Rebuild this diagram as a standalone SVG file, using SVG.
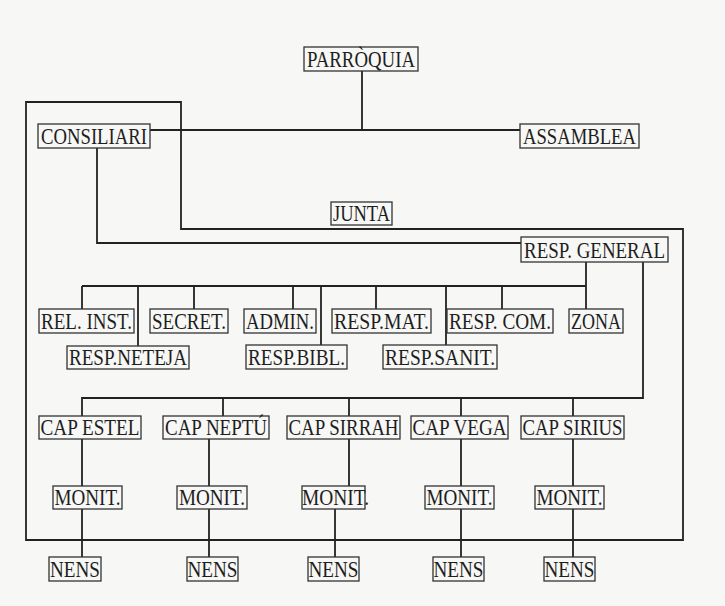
<svg xmlns="http://www.w3.org/2000/svg" width="725" height="606" viewBox="0 0 725 606">
<style>
.bg{fill:#f7f7f5}
.box{fill:none;stroke:#333;stroke-width:1.3}
.ln{fill:none;stroke:#222;stroke-width:1.8;stroke-linejoin:miter}
text{font-family:"Liberation Serif","Times New Roman",serif;font-size:23px;fill:#1e1e1e;text-anchor:middle}
</style>
<rect class="bg" x="0" y="0" width="725" height="606"/>
<g id="connectors">
<path class="ln" d="M362,71 V130 M150,130 H520"/>
<path class="ln" d="M26,102 H181 V229 H683 V540 H26 Z"/>
<path class="ln" d="M97,148 V243 H521"/>
<path class="ln" d="M586,262 V309 M82,286 H586 M82,286 V309 M138,286 V346 M194,286 V309 M293,286 V309 M321,286 V345 M376,286 V309 M446,286 V345 M502,286 V309"/>
<path class="ln" d="M643,262 V398 H82 V416 M223,398 V416 M349,398 V416 M461,398 V416 M573,398 V416"/>
<path class="ln" d="M82,439 V486 M209,439 V486 M349,439 V486 M461,439 V486 M573,439 V486"/>
<path class="ln" d="M82,509 V557 M209,509 V557 M335,509 V557 M461,509 V557 M573,509 V557"/>
</g>
<g id="parroquia"><rect class="box" x="304" y="47" width="114" height="24"/><text x="361" y="67" textLength="108" lengthAdjust="spacingAndGlyphs">PARRÒQUIA</text></g>
<g id="consiliari"><rect class="box" x="38" y="124" width="112" height="24"/><text x="94" y="144" textLength="106" lengthAdjust="spacingAndGlyphs">CONSILIARI</text></g>
<g id="assamblea"><rect class="box" x="520" y="124" width="119" height="24"/><text x="579.5" y="144" textLength="113" lengthAdjust="spacingAndGlyphs">ASSAMBLEA</text></g>
<g id="junta"><rect class="box" x="331" y="202" width="61" height="23"/><text x="361.5" y="221" textLength="57" lengthAdjust="spacingAndGlyphs">JUNTA</text></g>
<g id="resp-general"><rect class="box" x="521" y="237" width="147" height="25"/><text x="594.5" y="258" textLength="141" lengthAdjust="spacingAndGlyphs">RESP. GENERAL</text></g>
<g id="rel-inst"><rect class="box" x="39" y="309" width="95" height="24"/><text x="86.5" y="329" textLength="91" lengthAdjust="spacingAndGlyphs">REL. INST.</text></g>
<g id="secret"><rect class="box" x="150" y="309" width="78" height="24"/><text x="189" y="329" textLength="74" lengthAdjust="spacingAndGlyphs">SECRET.</text></g>
<g id="admin"><rect class="box" x="244" y="309" width="72" height="24"/><text x="280" y="329" textLength="68" lengthAdjust="spacingAndGlyphs">ADMIN.</text></g>
<g id="resp-mat"><rect class="box" x="332" y="309" width="99" height="24"/><text x="381.5" y="329" textLength="95" lengthAdjust="spacingAndGlyphs">RESP.MAT.</text></g>
<g id="resp-com"><rect class="box" x="447" y="309" width="106" height="24"/><text x="500" y="329" textLength="102" lengthAdjust="spacingAndGlyphs">RESP. COM.</text></g>
<g id="zona"><rect class="box" x="569" y="309" width="54" height="24"/><text x="596" y="329" textLength="50" lengthAdjust="spacingAndGlyphs">ZONA</text></g>
<g id="resp-neteja"><rect class="box" x="67" y="346" width="122" height="23"/><text x="128" y="365" textLength="118" lengthAdjust="spacingAndGlyphs">RESP.NETEJA</text></g>
<g id="resp-bibl"><rect class="box" x="246" y="345" width="101" height="24"/><text x="296.5" y="365" textLength="97" lengthAdjust="spacingAndGlyphs">RESP.BIBL.</text></g>
<g id="resp-sanit"><rect class="box" x="383" y="345" width="114" height="24"/><text x="440" y="365" textLength="110" lengthAdjust="spacingAndGlyphs">RESP.SANIT.</text></g>
<g id="cap-estel"><rect class="box" x="39" y="416" width="102" height="23"/><text x="90" y="435" textLength="99" lengthAdjust="spacingAndGlyphs">CAP ESTEL</text></g>
<g id="cap-neptu"><rect class="box" x="163" y="416" width="106" height="23"/><text x="216" y="435" textLength="102" lengthAdjust="spacingAndGlyphs">CAP NEPTÚ</text></g>
<g id="cap-sirrah"><rect class="box" x="287" y="416" width="113" height="23"/><text x="343.5" y="435" textLength="110" lengthAdjust="spacingAndGlyphs">CAP SIRRAH</text></g>
<g id="cap-vega"><rect class="box" x="411" y="416" width="97" height="23"/><text x="459.5" y="435" textLength="94" lengthAdjust="spacingAndGlyphs">CAP VEGA</text></g>
<g id="cap-sirius"><rect class="box" x="521" y="416" width="103" height="23"/><text x="572.5" y="435" textLength="100" lengthAdjust="spacingAndGlyphs">CAP SIRIUS</text></g>
<g id="monit-1"><rect class="box" x="53" y="486" width="69" height="23"/><text x="87.5" y="505" textLength="66" lengthAdjust="spacingAndGlyphs">MONIT.</text></g>
<g id="monit-2"><rect class="box" x="177" y="486" width="70" height="23"/><text x="212" y="505" textLength="66" lengthAdjust="spacingAndGlyphs">MONIT.</text></g>
<g id="monit-3"><rect class="box" x="302" y="486" width="63" height="23"/><text x="335.5" y="505" textLength="67" lengthAdjust="spacingAndGlyphs">MONIT.</text></g>
<g id="monit-4"><rect class="box" x="425" y="486" width="69" height="23"/><text x="459.5" y="505" textLength="66" lengthAdjust="spacingAndGlyphs">MONIT.</text></g>
<g id="monit-5"><rect class="box" x="535" y="486" width="69" height="23"/><text x="569.5" y="505" textLength="66" lengthAdjust="spacingAndGlyphs">MONIT.</text></g>
<g id="nens-1"><rect class="box" x="49" y="557" width="52" height="24"/><text x="75" y="577" textLength="50" lengthAdjust="spacingAndGlyphs">NENS</text></g>
<g id="nens-2"><rect class="box" x="187" y="557" width="51" height="24"/><text x="212.5" y="577" textLength="50" lengthAdjust="spacingAndGlyphs">NENS</text></g>
<g id="nens-3"><rect class="box" x="308" y="557" width="51" height="24"/><text x="333.5" y="577" textLength="50" lengthAdjust="spacingAndGlyphs">NENS</text></g>
<g id="nens-4"><rect class="box" x="433" y="557" width="51" height="24"/><text x="458.5" y="577" textLength="50" lengthAdjust="spacingAndGlyphs">NENS</text></g>
<g id="nens-5"><rect class="box" x="544" y="557" width="51" height="24"/><text x="569.5" y="577" textLength="50" lengthAdjust="spacingAndGlyphs">NENS</text></g>
</svg>
